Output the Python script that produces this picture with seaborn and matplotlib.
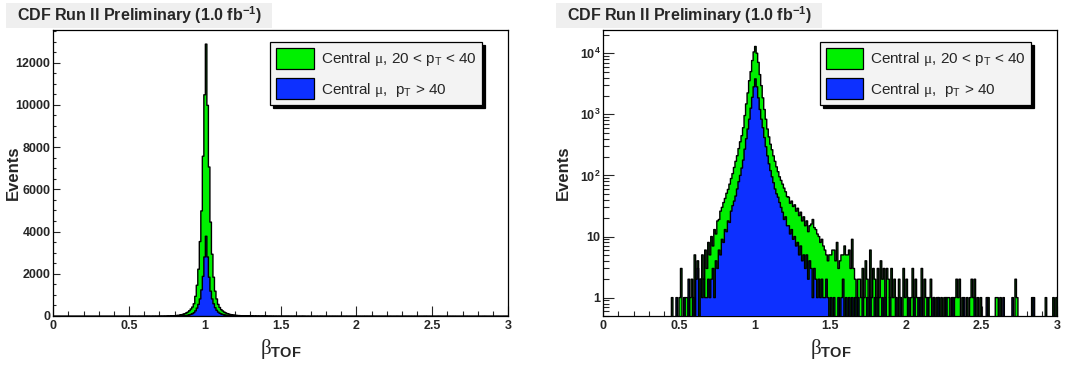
import numpy as np
import pandas as pd
import matplotlib
matplotlib.use("Agg")
import matplotlib.pyplot as plt
from matplotlib.patches import Patch, Rectangle
from matplotlib.ticker import MultipleLocator, FixedLocator, FuncFormatter, LogLocator, NullFormatter
import seaborn as sns

# ---------------------------------------------------------------------------
# beta_TOF histograms, 300 bins of width 0.01 between 0 and 3
# ---------------------------------------------------------------------------
BIN_WIDTH = 0.01
N_BINS = 300

# Central muons, 20 < pT < 40 : contiguous bins starting at beta = 0.64
green_core_start = 0.64
green_core = [
    2, 5, 2, 6, 3, 8, 5, 10, 7, 13,              # 0.64 - 0.73
    11, 18, 19, 26, 30, 36, 42, 51, 59, 72,      # 0.74 - 0.83
    89, 107, 135, 170, 210, 275, 355, 447, 603, 955,   # 0.84 - 0.93
    1480, 2240, 3550, 5000, 7590, 10500,         # 0.94 - 0.99
    12900,                                       # 1.00
    10000, 7080, 4470, 2950, 1860, 1200, 830, 575, 427, 324,   # 1.01 - 1.10
    263, 209, 170, 138, 115, 95, 83, 72, 62, 54,  # 1.11 - 1.20
    45, 44, 35, 38, 31, 33, 26, 29, 22, 25,      # 1.21 - 1.30
    18, 21, 15, 18, 12, 15, 16, 19, 14, 13,      # 1.31 - 1.40
    11, 10, 8, 9, 7, 6, 5, 4, 5, 5,              # 1.41 - 1.50
    6, 6, 4, 8, 3, 4, 5, 5, 7, 5,                # 1.51 - 1.60
    5, 6, 3, 9, 3, 2, 1, 2, 2, 1,                # 1.61 - 1.70
    3, 1, 4, 2, 1, 6, 1, 3, 2, 1,                # 1.71 - 1.80
    3, 1, 4, 2, 3, 1, 3, 2, 1, 3,                # 1.81 - 1.90
    1, 2, 1, 0, 2, 1, 0, 3, 1, 2,                # 1.91 - 2.00
    1, 0, 1, 3, 0, 2, 1, 0, 1, 3,                # 2.01 - 2.10
    0, 2, 1, 0, 1, 2, 0, 1, 0, 1,                # 2.11 - 2.20
    1, 0, 1, 0, 1, 0, 1, 1, 0, 1,                # 2.21 - 2.30
    0, 1, 2, 1, 2, 0, 1, 0, 0, 1,                # 2.31 - 2.40
    0, 1, 2, 1, 2, 0, 1, 0, 1, 0,                # 2.41 - 2.50
]
# isolated bins outside the contiguous range (bin lower edge, counts)
green_tail_beta = [0.45, 0.50, 0.51, 0.54, 0.55, 0.57, 0.58, 0.60, 0.61, 0.62, 0.63,
                   2.54, 2.59, 2.60, 2.62, 2.72, 2.73, 2.83, 2.92, 2.97, 2.99]
green_tail_counts = [1, 1, 3, 1, 1, 1, 2, 5, 1, 4, 2,
                     1, 1, 1, 1, 2, 1, 1, 1, 1, 1]

# Central muons, pT > 40 : contiguous bins starting at beta = 0.67
blue_core_start = 0.67
blue_core = [
    1, 1, 2, 1, 2, 3, 1, 4, 3,                   # 0.67 - 0.75
    6, 5, 9, 8, 13, 12, 18, 17, 26, 32,          # 0.76 - 0.85
    38, 46, 60, 79, 100, 132, 178, 269, 398, 575,  # 0.86 - 0.95
    832, 1260, 1900, 2820,                       # 0.96 - 0.99
    3800,                                        # 1.00
    2820, 1860, 1200, 832, 603, 417, 295, 209, 155, 120,  # 1.01 - 1.10
    95, 76, 60, 50, 44, 36, 30, 25, 19, 21,      # 1.11 - 1.20
    15, 15, 11, 13, 9, 10, 7, 8, 5, 7,           # 1.21 - 1.30
    4, 5, 3, 5, 2, 4, 3, 1, 3, 2,                # 1.31 - 1.40
    1, 2, 1, 2, 1, 1, 2, 1, 0, 1,                # 1.41 - 1.50
]
blue_tail_beta = [0.48, 0.53, 0.56, 0.59, 0.61, 0.62, 0.64, 0.65, 0.66,
                  1.52, 1.55, 1.57, 1.58, 1.60, 1.62, 1.64, 1.66, 1.68, 1.71,
                  1.74, 1.76, 1.79, 1.81, 1.84, 1.86, 1.89, 1.93, 1.96, 2.01,
                  2.05, 2.08, 2.10, 2.14, 2.18, 2.21, 2.26, 2.31, 2.38, 2.45,
                  2.53, 2.64, 2.70, 2.84]
blue_tail_counts = [1, 1, 2, 1, 2, 3, 2, 1, 2,
                    1, 1, 1, 2, 1, 1, 1, 1, 1, 1,
                    1, 1, 1, 1, 1, 1, 1, 1, 1, 1,
                    1, 1, 1, 1, 1, 1, 1, 1, 1, 1,
                    1, 1, 1, 1]

labels = [r"Central $\mathrm{\mu}$, 20 < p$_{\mathsf{T}}$ < 40",
          r"Central $\mathrm{\mu}$,  p$_{\mathsf{T}}$ > 40"]
title = r"CDF Run II Preliminary (1.0 fb$^{\mathbf{-1}}$)"

GREEN = "#00f000"
BLUE = "#0d30ff"


def bin_counts(core_start, core, tail_beta, tail_counts):
    counts = np.zeros(N_BINS)
    i0 = int(round(core_start / BIN_WIDTH))
    counts[i0:i0 + len(core)] = core
    for b, c in zip(tail_beta, tail_counts):
        counts[int(round(b / BIN_WIDTH))] += c
    return counts


edges = np.linspace(0.0, N_BINS * BIN_WIDTH, N_BINS + 1)
centers = 0.5 * (edges[:-1] + edges[1:])
hist = pd.DataFrame({
    "beta": centers,
    "green": bin_counts(green_core_start, green_core, green_tail_beta, green_tail_counts),
    "blue": bin_counts(blue_core_start, blue_core, blue_tail_beta, blue_tail_counts),
})

# ---------------------------------------------------------------------------
sns.set_theme(style="ticks")
plt.rcParams["font.family"] = ["Liberation Sans", "DejaVu Sans"]
plt.rcParams["font.weight"] = "bold"
plt.rcParams["mathtext.fontset"] = "custom"
plt.rcParams["mathtext.rm"] = "Liberation Serif:weight=normal"
plt.rcParams["mathtext.sf"] = "Liberation Sans:weight=normal"
plt.rcParams["mathtext.bf"] = "Liberation Sans:weight=bold"
plt.rcParams["axes.linewidth"] = 0.9

W, H = 1066, 369
fig = plt.figure(figsize=(W / 100, H / 100), dpi=100)
fig.patch.set_facecolor("white")

ax_lin = fig.add_axes([53.3 / W, 1 - 316 / H, 454.7 / W, 286 / H])
ax_log = fig.add_axes([603.3 / W, 1 - 316 / H, 454 / W, 286 / H])


def draw_hists(ax):
    for col, colour, z in (("green", GREEN, 2), ("blue", BLUE, 3)):
        sns.histplot(data=hist, x="beta", weights=col, bins=list(edges), element="step",
                     fill=True, color=colour, edgecolor="black", linewidth=1.0,
                     alpha=1, ax=ax, zorder=z)
    ax.set_xlim(0, 3)
    ax.xaxis.set_major_locator(MultipleLocator(0.5))
    ax.xaxis.set_minor_locator(MultipleLocator(0.1))
    ax.xaxis.set_major_formatter(FuncFormatter(lambda v, _: f"{v:g}"))
    ax.tick_params(axis="x", which="major", direction="in", length=7, width=0.8,
                   labelsize=9, pad=3, top=False)
    ax.tick_params(axis="x", which="minor", direction="in", length=3.5, width=0.8, top=False)
    ax.set_xlabel(r"$\mathrm{\beta}_{\mathbf{TOF}}$", fontsize=15)
    ax.xaxis.set_label_coords(0.5, -0.075)
    ax.set_ylabel("Events", fontsize=12, fontweight="bold")
    ax.yaxis.set_label_coords(-0.071, 0.5)
    for s in ax.spines.values():
        s.set_visible(True)
        s.set_color("black")
    handles = [Patch(facecolor=GREEN, edgecolor="black", linewidth=0.9),
               Patch(facecolor=BLUE, edgecolor="black", linewidth=0.9)]
    leg = ax.legend(handles, labels, loc="upper right", bbox_to_anchor=(0.943, 0.958),
                    borderaxespad=0, frameon=True, fancybox=False,
                    shadow={"facecolor": "black", "edgecolor": "black", "alpha": 1},
                    prop={"size": 11, "weight": "normal"},
                    handlelength=2.45, handleheight=1.75, handletextpad=0.45,
                    labelspacing=0.6, borderpad=0.38)
    leg.get_frame().set_facecolor("#f3f3f3")
    leg.get_frame().set_edgecolor("black")
    leg.get_frame().set_linewidth(0.9)
    leg.get_frame().set_alpha(1)
    leg.set_zorder(10)


# linear panel
draw_hists(ax_lin)
ax_lin.set_ylim(0, 1.05 * hist[["green", "blue"]].to_numpy().max())
ax_lin.yaxis.set_major_locator(MultipleLocator(2000))
ax_lin.yaxis.set_minor_locator(MultipleLocator(500))
ax_lin.yaxis.set_major_formatter(FuncFormatter(lambda v, _: f"{v:.0f}"))
ax_lin.tick_params(axis="y", which="major", direction="in", length=5, width=0.8,
                   labelsize=9, pad=2, right=False)
ax_lin.tick_params(axis="y", which="minor", direction="in", length=2.5, width=0.8, right=False)

# logarithmic panel
draw_hists(ax_log)
ax_log.set_yscale("log")
ax_log.set_ylim(0.5, 2.4e4)
log_labels = {1: "1", 10: "10", 100: r"$\mathbf{10^{2}}$",
              1000: r"$\mathbf{10^{3}}$", 10000: r"$\mathbf{10^{4}}$"}
ax_log.yaxis.set_major_locator(FixedLocator(list(log_labels)))
ax_log.yaxis.set_major_formatter(FuncFormatter(lambda v, _: log_labels.get(int(round(v)), "")))
ax_log.yaxis.set_minor_locator(LogLocator(base=10, subs=range(2, 10)))
ax_log.yaxis.set_minor_formatter(NullFormatter())
ax_log.tick_params(axis="y", which="major", direction="in", length=8, width=0.8,
                   labelsize=9, pad=2, right=False)
ax_log.tick_params(axis="y", which="minor", direction="in", length=4, width=0.8, right=False)

for a in (ax_lin, ax_log):
    for lab in a.get_xticklabels() + a.get_yticklabels():
        lab.set_fontweight("bold")

# title boxes
for x0 in (6, 556):
    fig.patches.append(Rectangle((x0 / W, 1 - 28 / H), 266 / W, 25 / H,
                                 transform=fig.transFigure, facecolor="#efefef",
                                 edgecolor="none", zorder=0))
    fig.text((x0 + 11) / W, 1 - 15.5 / H, title, fontsize=11.5, fontweight="bold",
             ha="left", va="center")

fig.savefig("out.png", dpi=100, facecolor="white")
